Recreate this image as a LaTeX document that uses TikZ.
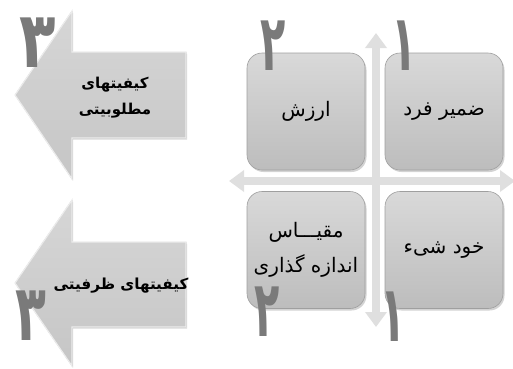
\documentclass[tikz,border=0pt]{standalone}
\usepackage{graphicx}
\usepackage{fontspec}
\newfontfamily\arabicfont[Script=Arabic]{DejaVu Sans}
\TeXXeTstate=1
\usetikzlibrary{arrows.meta,shadows}
\newcommand\fa[1]{{\arabicfont\beginR #1\endR}}
\newcommand\bigdigit[2][.9]{\scalebox{#1}[1.7]{\arabicfont\bfseries #2}}
\begin{document}
\begin{tikzpicture}[x=1pt,y=-1pt,
        box gray/.style={rounded corners=15pt, top color=gray!30, bottom color=gray!52,
          draw=gray!75, line width=.6pt, minimum width=118pt, minimum height=117pt,
          drop shadow={shadow xshift=1.5pt,shadow yshift=-2pt,opacity=.35}},
        axis arrow/.style={line width=8pt, draw=gray!25, >={Triangle[width=21pt,length=15pt]}, <->},
        big arrow/.style={top color=gray!32, bottom color=gray!45, draw=gray!15, line width=1.2pt,
          drop shadow={shadow xshift=1pt,shadow yshift=-1.5pt,opacity=.3}},
        label fa/.style={font=\fontsize{20}{35}\selectfont, align=center, inner sep=0pt},
        label bold/.style={font=\fontsize{15}{26}\selectfont\bfseries, align=center, inner sep=0pt},
        digit/.style={text=black!52, inner sep=0pt, font=\fontsize{46}{46}\selectfont}]
        \useasboundingbox (0,0) rectangle (513,368);

        % axes
        \coordinate (up)    at (376,33);
        \coordinate (down)  at (376,327);
        \coordinate (left)  at (229,181);
        \coordinate (right) at (515,181);
        \draw[axis arrow] (left) -- (right);
        \draw[axis arrow] (up)   -- (down);

        % quadrants
        \node[box gray, label fa] (fard)    at (444,111.5) {\fa{ضمیر فرد}};
        \node[box gray, label fa] (arzesh)  at (306,111.5) {\fa{ارزش}};
        \node[box gray, label fa] (meghyas) at (306,250)   {\fa{مقیـــاس}\\\fa{اندازه گذاری}};
        \node[box gray, label fa] (khod)    at (444,250)   {\fa{خود شیء}};

        % left arrows
        \filldraw[big arrow] (15,95)  -- (72,11)  -- (72,52)  -- (186,52)
                             -- (186,138) -- (72,138) -- (72,179) -- cycle;
        \filldraw[big arrow] (15,283) -- (72,200) -- (72,242) -- (186,242)
                             -- (186,327) -- (72,327) -- (72,366) -- cycle;
        \node[label bold] (matlub) at (115,98)  {\fa{کیفیتهای}\\\fa{مطلوبیتی}};
        \node[label bold, font=\fontsize{15.2}{26}\selectfont\bfseries] (zarfi) at (121,286) {\fa{کیفیتهای ظرفیتی}};

        % numbers
        \node[digit] (n1a) at (404,46)  {\bigdigit{۱}};
        \node[digit] (n2a) at (273,46)  {\bigdigit{۲}};
        \node[digit] (n2b) at (267,312) {\bigdigit{۲}};
        \node[digit] (n1b) at (393,317) {\bigdigit{۱}};
        \node[digit] (n3a) at (38,43)   {\bigdigit[1.3]{۳}};
        \node[digit] (n3b) at (31,316)  {\bigdigit[1.1]{۳}};
      \end{tikzpicture}
\end{document}
